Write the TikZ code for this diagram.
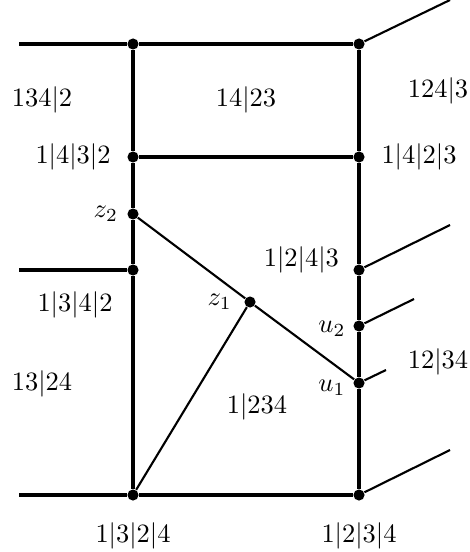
\documentclass[tikz,border=0pt]{standalone}
\usepackage{tikz}
\usetikzlibrary{positioning}
\tikzset{
  vertex/.style={circle,fill=black,inner sep=0pt,minimum size=4.2pt},
  bound/.style={line width=1.3pt},
  cut/.style={thick},
  lbl/.style={inner sep=0pt},
}

\begin{document}
\begin{tikzpicture}[x=0.3778pt,y=-0.3778pt]
\useasboundingbox (0,0) rectangle (469,552);

% left column
\node[vertex] (a1) at (133,44) {};
\node[vertex] (a2) at (133,157) {};
\node[vertex] (z2) at (133,214) {};
\node[vertex] (a3) at (133,270) {};
\node[vertex] (a4) at (133,495) {};

% right column
\node[vertex] (b1) at (359,44) {};
\node[vertex] (b2) at (359,157) {};
\node[vertex] (b3) at (359,270) {};
\node[vertex] (u2) at (359,326) {};
\node[vertex] (u1) at (359,383) {};
\node[vertex] (b4) at (359,495) {};

% inner vertex
\node[vertex] (z1) at (250,302) {};

% free ends
\coordinate (e1) at (19,44);
\coordinate (e2) at (19,270);
\coordinate (e3) at (19,495);
\coordinate (f1) at (450,0);
\coordinate (f2) at (450,225);
\coordinate (f3) at (414,299);
\coordinate (f4) at (386,370);
\coordinate (f5) at (450,450);

% walls
\draw[bound] (e1) -- (a1) -- (b1);
\draw[bound] (a2) -- (b2);
\draw[bound] (e2) -- (a3);
\draw[bound] (e3) -- (a4) -- (b4);
\draw[bound] (a1) -- (a2) -- (z2) -- (a3) -- (a4);
\draw[bound] (b1) -- (b2) -- (b3) -- (u2) -- (u1) -- (b4);

% cuts
\draw[cut] (z2) -- (z1) -- (u1);
\draw[cut] (z1) -- (a4);
\draw[cut] (b1) -- (f1);
\draw[cut] (b3) -- (f2);
\draw[cut] (u2) -- (f3);
\draw[cut] (u1) -- (f4);
\draw[cut] (b4) -- (f5);

% vertex labels
\node[lbl,left=6pt of a2] {$1|4|3|2$};
\node[lbl,right=6pt of b2] {$1|4|2|3$};
\node[lbl,left=3.2pt of z2] {$z_2$};
\node[lbl,left=4.4pt of z1] {$z_1$};
\node[lbl,left=2.6pt of u2,yshift=-1pt] {$u_2$};
\node[lbl,left=2.6pt of u1,yshift=-1.8pt] {$u_1$};
\node[lbl,left=5.1pt of b3,yshift=3.8pt] {$1|2|4|3$};
\node[lbl,below=8.1pt of a4] {$1|3|2|4$};
\node[lbl,below=8.1pt of b4] {$1|2|3|4$};

% region labels
\node[lbl] (r1) at (42,100) {$134|2$};
\node[lbl] (r2) at (246,100) {$14|23$};
\node[lbl] (r3) at (438,91) {$124|3$};
\node[lbl] (r4) at (75,305) {$1|3|4|2$};
\node[lbl] (r5) at (438,362) {$12|34$};
\node[lbl] (r6) at (42,384) {$13|24$};
\node[lbl] (r7) at (257,407) {$1|234$};

\end{tikzpicture}
\end{document}
